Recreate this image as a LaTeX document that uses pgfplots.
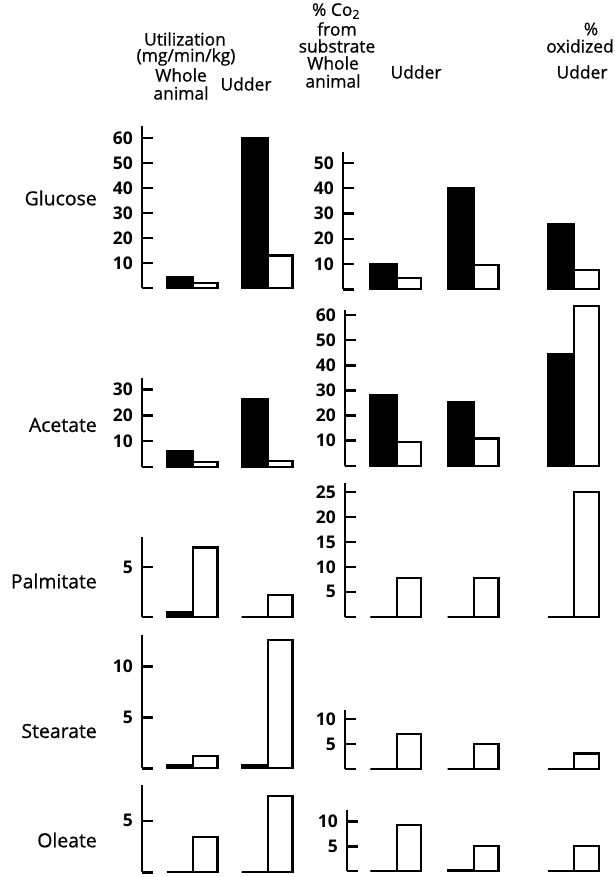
\documentclass[border=0pt]{standalone}
\usepackage{fontspec}
\setmainfont{Open Sans}
\newfontfamily\hf{Open Sans}[BoldFont={Open Sans}, BoldFeatures={FakeBold=0.7}]
\usepackage{pgfplots}
\pgfplotsset{compat=1.18}
\pgfplotsset{
  panel/.style={
    x=1bp,
    axis x line=none,
    axis y line*=left,
    ymin=0,
    anchor=south west,
    clip=false,
    y axis line style={line width=2.6bp, -},
    tick align=inside,
    ytick style={line width=2.4bp, black},
    major tick length=11bp,
    yticklabel style={font=\fontsize{17.5}{17.5}\selectfont\bfseries, inner sep=0pt, xshift=-9bp},
  },
  blk/.style={ybar, bar width=26.5, bar shift=0pt, fill=black, draw=black, line width=1.8bp},
  wht/.style={ybar, bar width=24.5, bar shift=0pt, fill=white, draw=black, line width=2.2bp},
}
\newcommand{\hdr}{\hf\bfseries\fontsize{17.5}{17.5}\selectfont}
\newcommand{\rowf}{\hf\bfseries\fontsize{19.5}{19.5}\selectfont}
\tikzset{h/.style={font=\hdr, inner sep=0pt}}
\begin{document}
\begin{tikzpicture}
\path[use as bounding box] (0,0) rectangle (615bp,-877bp);
% ---------- headers ----------
\node[h] at (185bp,-39bp) {Utilization};
\node[h] at (186bp,-57bp) {(mg/min/kg)};
\node[h] at (181bp,-75bp) {Whole};
\node[h] at (181bp,-93bp) {animal};
\node[h] at (246bp,-84bp) {Udder};
\node[h] at (336bp,-11bp) {\% Co\textsubscript{2}};
\node[h] at (337bp,-29bp) {from};
\node[h] at (337bp,-46bp) {substrate};
\node[h] at (333bp,-63bp) {Whole};
\node[h] at (333bp,-81bp) {animal};
\node[h] at (416bp,-72bp) {Udder};
\node[h] at (591bp,-29bp) {\%};
\node[h] at (580bp,-46bp) {oxidized};
\node[h] at (582bp,-72bp) {Udder};
% ---------- row labels ----------
\node[font=\rowf, anchor=east, inner sep=0pt] at (97bp,-198bp) {Glucose};
\node[font=\rowf, anchor=east, inner sep=0pt] at (97bp,-425bp) {Acetate};
\node[font=\rowf, anchor=east, inner sep=0pt] at (97bp,-581bp) {Palmitate};
\node[font=\rowf, anchor=east, inner sep=0pt] at (97bp,-731bp) {Stearate};
\node[font=\rowf, anchor=east, inner sep=0pt] at (97bp,-840bp) {Oleate};
% ---------- Glucose ----------
\begin{axis}[panel, at={(142bp,-288bp)}, xmin=142, xmax=300, y=2.5bp, ymax=65,
  ytick={0,10,...,60}, yticklabels={,10,20,30,40,50,60}]
\addplot[blk] coordinates {(180,4.3) (254.75,60)};
\addplot[wht] coordinates {(205.25,1.9) (280.25,13)};
\end{axis}
\begin{axis}[panel, at={(343bp,-289.3bp)}, xmin=343, xmax=610, y=2.53bp, ymax=54.4,
  ytick={0,10,...,50}, yticklabels={,10,20,30,40,50}]
\addplot[blk] coordinates {(383.5,10) (460.8,40) (561,26)};
\addplot[wht] coordinates {(409,4.5) (486.3,9.5) (586.5,7.5)};
\end{axis}
% ---------- Acetate ----------
\begin{axis}[panel, at={(142bp,-466.7bp)}, xmin=142, xmax=300, y=2.57bp, ymax=34.4,
  ytick={0,10,20,30}, yticklabels={,10,20,30}]
\addplot[blk] coordinates {(180,6) (254.75,26.2)};
\addplot[wht] coordinates {(205.25,1.9) (280.25,2.3)};
\end{axis}
\begin{axis}[panel, at={(345bp,-465.7bp)}, xmin=345, xmax=610, y=2.51bp, ymax=62,
  ytick={0,10,...,60}, yticklabels={,10,20,30,40,50,60}]
\addplot[blk] coordinates {(383.5,28.4) (460.8,25.5) (561,44.5)};
\addplot[wht] coordinates {(409,9.6) (486.3,10.8) (586.5,63.6)};
\end{axis}
% ---------- Palmitate ----------
\begin{axis}[panel, at={(142bp,-616.7bp)}, xmin=142, xmax=300, y=9.9bp, ymax=8.1,
  ytick={0,5}, yticklabels={,5}]
\addplot[blk] coordinates {(180,0.5) (254.75,0)};
\addplot[wht] coordinates {(205.25,7.0) (280.25,2.2)};
\end{axis}
\begin{axis}[panel, at={(345bp,-616.7bp)}, xmin=345, xmax=610, y=4.98bp, ymax=26.8,
  ytick={0,5,...,25}, yticklabels={,5,10,15,20,25}]
\addplot[blk] coordinates {(383.5,0) (460.8,0) (561,0)};
\addplot[wht] coordinates {(409,7.8) (486.3,7.8) (586.5,25)};
\end{axis}
% ---------- Stearate ----------
\begin{axis}[panel, at={(142bp,-768.3bp)}, xmin=142, xmax=300, y=10.2bp, ymax=13.1,
  ytick={0,5,10}, yticklabels={,5,10}]
\addplot[blk] coordinates {(180,0.3) (254.75,0.3)};
\addplot[wht] coordinates {(205.25,1.2) (280.25,12.6)};
\end{axis}
\begin{axis}[panel, at={(345bp,-769bp)}, xmin=345, xmax=610, y=5bp, ymax=11.8,
  ytick={0,5,10}, yticklabels={,5,10}]
\addplot[blk] coordinates {(383.5,0) (460.8,0) (561,0)};
\addplot[wht] coordinates {(409,7.0) (486.3,5.0) (586.5,3.1)};
\end{axis}
% ---------- Oleate ----------
\begin{axis}[panel, at={(142bp,-872.3bp)}, xmin=142, xmax=300, y=10.3bp, ymax=8.5,
  ytick={0,5}, yticklabels={,5}]
\addplot[blk] coordinates {(180,0) (254.75,0)};
\addplot[wht] coordinates {(205.25,3.4) (280.25,7.4)};
\end{axis}
\begin{axis}[panel, at={(347bp,-871bp)}, xmin=347, xmax=610, y=4.94bp, ymax=12.3,
  ytick={0,5,10}, yticklabels={,5,10}]
\addplot[blk] coordinates {(383.5,0) (460.8,0.3) (561,0)};
\addplot[wht] coordinates {(409,9.3) (486.3,5.0) (586.5,5.0)};
\end{axis}
\end{tikzpicture}
\end{document}
